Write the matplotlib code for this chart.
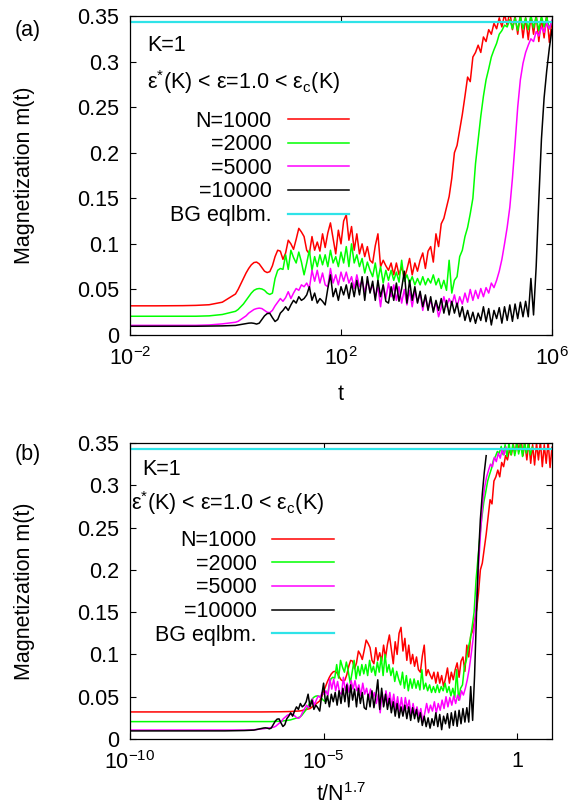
import numpy as np
import matplotlib
matplotlib.use("Agg")
import matplotlib.pyplot as plt
from matplotlib.ticker import NullLocator

plt.rcParams['font.family'] = ['Liberation Sans', 'DejaVu Sans']
plt.rcParams['mathtext.fontset'] = 'custom'
plt.rcParams['mathtext.rm'] = 'Liberation Sans'
plt.rcParams['mathtext.it'] = 'Liberation Sans:italic'
plt.rcParams['mathtext.bf'] = 'Liberation Sans:bold'

# ---- Data: log10(t) sample times and m(t) for each system size ----
logt = np.concatenate([[-6, -3, -2, -1.5, -1, -0.75, -0.5, -0.25],
                       np.arange(0, 121) * 0.05])

m_1000 = [0.032, 0.032, 0.032, 0.032, 0.0322, 0.0325, 0.0332, 0.036,
          0.045, 0.050, 0.056, 0.062, 0.068, 0.073, 0.077, 0.0795, 0.080, 0.078,
          0.074, 0.070, 0.0685, 0.0695, 0.076, 0.086, 0.093, 0.092, 0.083, 0.090,
          0.104, 0.100, 0.094, 0.105, 0.117, 0.113, 0.108, 0.093, 0.089, 0.108,
          0.093, 0.102, 0.092, 0.111, 0.096, 0.112, 0.123, 0.106, 0.089, 0.115,
          0.100, 0.125, 0.132, 0.104, 0.119, 0.093, 0.111, 0.089, 0.100, 0.086,
          0.097, 0.082, 0.079, 0.098, 0.111, 0.075, 0.082, 0.076, 0.071, 0.079,
          0.066, 0.079, 0.066, 0.075, 0.062, 0.072, 0.084, 0.066, 0.079, 0.070,
          0.082, 0.090, 0.073, 0.092, 0.097, 0.080, 0.111, 0.097, 0.122, 0.128,
          0.140, 0.152, 0.172, 0.200, 0.208, 0.225, 0.242, 0.262, 0.283, 0.278,
          0.305, 0.310, 0.318, 0.310, 0.327, 0.322, 0.335, 0.330, 0.342, 0.336,
          0.348, 0.338, 0.352, 0.340, 0.355, 0.335, 0.350, 0.330, 0.352, 0.326,
          0.348, 0.324, 0.350, 0.330, 0.352, 0.322, 0.348, 0.326, 0.352, 0.321,
          0.345]

m_2000 = [0.0205, 0.0205, 0.0205, 0.0205, 0.0205, 0.0206, 0.021, 0.0225,
          0.026, 0.028, 0.031, 0.034, 0.038, 0.042, 0.046, 0.049, 0.0505, 0.051,
          0.0505, 0.049, 0.046, 0.0445, 0.046, 0.062, 0.071, 0.073, 0.072, 0.088,
          0.072, 0.093, 0.085, 0.079, 0.091, 0.080, 0.066, 0.079, 0.093, 0.071,
          0.086, 0.075, 0.088, 0.077, 0.088, 0.075, 0.093, 0.079, 0.086, 0.075,
          0.091, 0.079, 0.097, 0.075, 0.100, 0.079, 0.088, 0.075, 0.084, 0.068,
          0.080, 0.071, 0.064, 0.079, 0.060, 0.075, 0.057, 0.071, 0.060, 0.071,
          0.060, 0.069, 0.058, 0.082, 0.059, 0.066, 0.057, 0.064, 0.055, 0.062,
          0.055, 0.064, 0.055, 0.062, 0.057, 0.066, 0.055, 0.062, 0.051, 0.060,
          0.049, 0.082, 0.046, 0.060, 0.064, 0.086, 0.093, 0.108, 0.118, 0.133,
          0.150, 0.188, 0.214, 0.240, 0.262, 0.280, 0.292, 0.305, 0.313, 0.320,
          0.330, 0.334, 0.340, 0.338, 0.346, 0.336, 0.348, 0.334, 0.350, 0.336,
          0.348, 0.335, 0.351, 0.337, 0.349, 0.334, 0.350, 0.338, 0.349, 0.336,
          0.345]

m_5000 = [0.0105, 0.0105, 0.0105, 0.0105, 0.0105, 0.0106, 0.011, 0.0122,
          0.014, 0.015, 0.017, 0.019, 0.021, 0.024, 0.026, 0.028, 0.029, 0.0295,
          0.029, 0.027, 0.025, 0.0245, 0.027, 0.032, 0.036, 0.040, 0.037, 0.041,
          0.0475, 0.040, 0.046, 0.051, 0.049, 0.055, 0.053, 0.057, 0.051, 0.071,
          0.059, 0.071, 0.057, 0.068, 0.055, 0.053, 0.073, 0.057, 0.066, 0.055,
          0.069, 0.059, 0.069, 0.057, 0.064, 0.051, 0.066, 0.053, 0.060, 0.047,
          0.059, 0.048, 0.055, 0.042, 0.053, 0.031, 0.055, 0.040, 0.057, 0.042,
          0.055, 0.038, 0.053, 0.035, 0.050, 0.033, 0.049, 0.031, 0.049, 0.036,
          0.046, 0.027, 0.042, 0.029, 0.038, 0.027, 0.036, 0.020, 0.030, 0.042,
          0.031, 0.040, 0.033, 0.044, 0.031, 0.042, 0.034, 0.046, 0.036, 0.050,
          0.038, 0.049, 0.040, 0.051, 0.042, 0.052, 0.046, 0.057, 0.052, 0.060,
          0.070, 0.083, 0.100, 0.118, 0.140, 0.172, 0.210, 0.250, 0.280, 0.298,
          0.310, 0.318, 0.325, 0.322, 0.333, 0.328, 0.338, 0.332, 0.342, 0.336,
          0.345]

m_10000 = [0.0095, 0.0095, 0.0095, 0.0095, 0.0095, 0.0096, 0.0098, 0.010,
           0.0105, 0.011, 0.0115, 0.012, 0.0125, 0.013, 0.0132, 0.0128, 0.012, 0.013,
           0.017, 0.021, 0.0235, 0.0238, 0.019, 0.0148, 0.017, 0.024, 0.027, 0.031,
           0.027, 0.033, 0.038, 0.035, 0.042, 0.038, 0.040, 0.044, 0.053, 0.038,
           0.046, 0.035, 0.040, 0.037, 0.033, 0.051, 0.066, 0.042, 0.051, 0.038,
           0.053, 0.044, 0.055, 0.040, 0.057, 0.042, 0.060, 0.044, 0.064, 0.038,
           0.064, 0.046, 0.059, 0.038, 0.060, 0.042, 0.055, 0.037, 0.035, 0.053,
           0.038, 0.057, 0.037, 0.051, 0.070, 0.035, 0.060, 0.038, 0.053, 0.035,
           0.048, 0.031, 0.044, 0.027, 0.042, 0.025, 0.038, 0.027, 0.040, 0.024,
           0.038, 0.022, 0.037, 0.024, 0.035, 0.020, 0.031, 0.016, 0.027, 0.0146,
           0.025, 0.0128, 0.024, 0.016, 0.031, 0.0146, 0.029, 0.011, 0.027, 0.018,
           0.030, 0.013, 0.031, 0.016, 0.033, 0.015, 0.034, 0.018, 0.036, 0.020,
           0.037, 0.020, 0.062, 0.022, 0.075, 0.148, 0.215, 0.260, 0.290, 0.315,
           0.335]

sizes = [1000, 2000, 5000, 10000]
series = [m_1000, m_2000, m_5000, m_10000]
labels = ['N=1000', '=2000', '=5000', '=10000']
colors = ['#ff0000', '#00ff00', '#ff00ff', '#000000']
m_bg = 0.343
bg_color = '#2fe3e8'

yticks = [0, 0.05, 0.1, 0.15, 0.2, 0.25, 0.3, 0.35]
ytick_labels = ['0', '0.05', '0.1', '0.15', '0.2', '0.25', '0.3', '0.35']

FS = 15.5

fig = plt.figure(figsize=(5.71, 8.08), dpi=100)
ax_a = fig.add_axes([130/571, 1 - 335/808, 422/571, 319/808])
ax_b = fig.add_axes([130/571, 1 - 739/808, 422/571, 296/808])

for ax, panel in ((ax_a, 'a'), (ax_b, 'b')):
    t = 10.0 ** logt
    for N, m, c, lab in zip(sizes, series, colors, labels):
        x = t if panel == 'a' else t / N ** 1.7
        ax.plot(x, m, color=c, lw=1.1, label=lab)
    ax.axhline(m_bg, color=bg_color, lw=1.6, label='BG eqlbm.')

    ax.set_xscale('log')
    ax.set_ylim(0, 0.35)
    ax.set_yticks(yticks)
    ax.set_yticklabels(ytick_labels, fontsize=FS)
    ax.xaxis.set_minor_locator(NullLocator())
    ax.tick_params(direction='in', top=True, right=True, length=4.5, width=0.8)
    ax.tick_params(axis='y', pad=8)
    ax.tick_params(axis='x', pad=8.5)
    ax.set_ylabel('Magnetization m(t)', fontsize=FS)
    ax.yaxis.set_label_coords(-0.225, 0.5)
    for s in ax.spines.values():
        s.set_linewidth(0.9)

# ---- Panel (a) ----
ax_a.set_xlim(1e-2, 1e6)
ax_a.set_xticks([1e-2, 1e2, 1e6])
ax_a.set_xticklabels([r'10$^{\mathregular{-2}}$', r'10$^{\mathregular{2}}$',
                      r'10$^{\mathregular{6}}$'], fontsize=FS)
ax_a.set_xlabel('t', fontsize=FS)
ax_a.xaxis.set_label_coords(0.5, -0.155)
ax_a.text(0.04, 0.907, 'K=1', transform=ax_a.transAxes, fontsize=FS, va='center')
ax_a.text(0.04, 0.793, r'ε$^{\mathregular{*}}$(K) < ε=1.0 < ε$_{\mathregular{c}}$(K)',
          transform=ax_a.transAxes, fontsize=FS, va='center')
ax_a.legend(loc='upper right', bbox_to_anchor=(0.519, 0.703), markerfirst=False,
            frameon=False, fontsize=FS, handlelength=2.85, handletextpad=0.74,
            labelspacing=0.12, borderpad=0, borderaxespad=0)

# ---- Panel (b) ----
ax_b.set_xlim(1e-10, 10 ** 0.9)
ax_b.set_xticks([1e-10, 1e-5, 1])
ax_b.set_xticklabels([r'10$^{\mathregular{-10}}$', r'10$^{\mathregular{-5}}$', '1'],
                     fontsize=FS)
ax_b.set_xlabel(r't/N$^{\mathregular{1.7}}$', fontsize=FS)
ax_b.xaxis.set_label_coords(0.5, -0.148)
ax_b.text(0.028, 0.909, 'K=1', transform=ax_b.transAxes, fontsize=FS, va='center')
ax_b.text(0.002, 0.797, r'ε$^{\mathregular{*}}$(K) < ε=1.0 < ε$_{\mathregular{c}}$(K)',
          transform=ax_b.transAxes, fontsize=FS, va='center')
ax_b.legend(loc='upper right', bbox_to_anchor=(0.483, 0.705), markerfirst=False,
            frameon=False, fontsize=FS, handlelength=2.85, handletextpad=0.74,
            labelspacing=0.12, borderpad=0, borderaxespad=0)

fig.text(28/571, 1 - 30.5/808, '(a)', fontsize=FS, ha='center', va='center')
fig.text(28/571, 1 - 454.5/808, '(b)', fontsize=FS, ha='center', va='center')

fig.savefig('out.png', dpi=100)
